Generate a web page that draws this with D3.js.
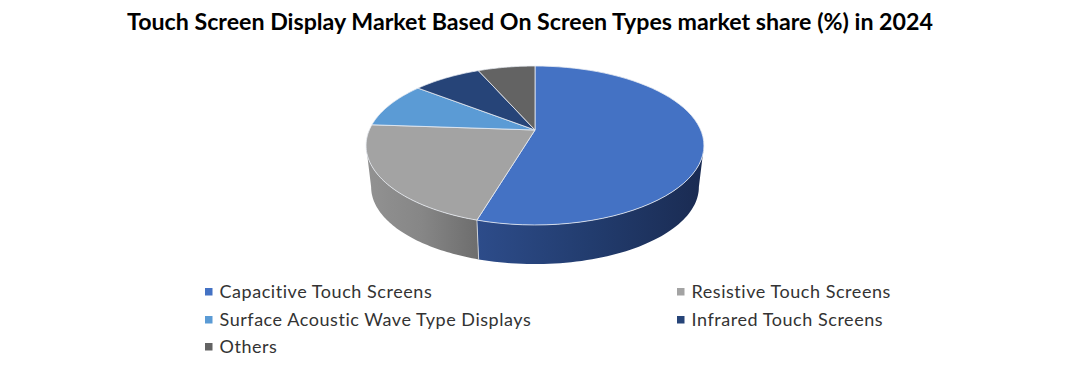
<!DOCTYPE html>
<html><head><meta charset="utf-8">
<script src="https://cdn.jsdelivr.net/npm/d3@7"></script>
<style>html,body{margin:0;padding:0;background:#fff}svg{display:block}text{font-family:Lato,sans-serif}</style>
</head><body><svg id="c" width="1070" height="372"></svg>
<script>
const titleText = "Touch Screen Display Market Based On Screen Types market share (%) in 2024";
const categories = ["Capacitive Touch Screens","Resistive Touch Screens","Surface Acoustic Wave Type Displays","Infrared Touch Screens","Others"];
const shares = [54.6,21.5,9.4,7.9,6.6];
const colors = ["#4472C4","#A3A3A3","#5B9BD5","#264478","#636363"];
const wallStops = [["#2d4c8a","#223c6e","#1a2b52"],["#929292","#868686","#6d6d6d"],["#3b6a96","#3b6a96","#3b6a96"],["#1a2f54","#1a2f54","#1a2f54"],["#454545","#454545","#454545"]];

const svg = d3.select("#c");
const defs = svg.append("defs");
const cx=535, apexY=130, K=165.7, A=51.1, C=-0.195, depthScale=0.97, ellipseCy=145.5, bottomCy=187;

// perspective projection of the tilted pie's disc
const topRim = t => { const u=Math.sin(t), v=-Math.cos(t), d=C*v+1;
  return [cx+K*u/d, (A*v+apexY)/d]; };
const botRim = t => { const p=topRim(t);
  return [cx+(p[0]-cx)*depthScale, bottomCy+(p[1]-ellipseCy)*depthScale]; };

const arcs = d3.pie().sort(null)(shares);
const line = d3.line();
const sample = (a,b) => d3.range(0,61).map(i=>a+(b-a)*i/60);

// only the front of the rim shows a wall: between the ellipse's left and right extremes
const tFront0 = Math.acos(-0.195), tFront1 = 2*Math.PI - tFront0;
arcs.forEach((d,i)=>{
  const a=Math.max(d.startAngle,tFront0), b=Math.min(d.endAngle,tFront1);
  if(b<=a) return;
  const ts=sample(a,b);
  const pts=ts.map(topRim).concat(ts.slice().reverse().map(botRim));
  const xs=pts.map(p=>p[0]);
  const g=defs.append("linearGradient").attr("id","w"+i).attr("gradientUnits","userSpaceOnUse")
    .attr("x1",d3.min(xs)).attr("x2",d3.max(xs)).attr("y1",0).attr("y2",0);
  wallStops[i].forEach((c,j)=>g.append("stop").attr("offset",j/2).attr("stop-color",c));
  svg.append("path").attr("d",line(pts)+"Z").attr("fill",`url(#w${i})`);
});
// boundary between the two visible walls
const seam=arcs[0].endAngle;
svg.append("path").attr("d",line([topRim(seam),botRim(seam)])).attr("stroke","#dfe3ea").attr("stroke-width",0.8).attr("fill","none");

// top faces
arcs.forEach((d,i)=>{
  const pts=[[cx,apexY]].concat(sample(d.startAngle,d.endAngle).map(topRim));
  svg.append("path").attr("d",line(pts)+"Z").attr("fill",colors[i])
    .attr("stroke","#e8ecf2").attr("stroke-width",0.8).attr("stroke-linejoin","round");
});

svg.append("text").attr("x",530).attr("y",30).attr("text-anchor","middle")
  .attr("font-size",23.2).attr("font-weight",700).attr("fill","#000").text(titleText);

const legendX=[205,677], legendY=[291,319,346];
categories.forEach((c,i)=>{
  const col=i%2, row=Math.floor(i/2);
  svg.append("rect").attr("x",legendX[col]).attr("y",legendY[row]-3).attr("width",7.5).attr("height",7.5).attr("fill",colors[i]);
  svg.append("text").attr("x",legendX[col]+14.5).attr("y",legendY[row]+6.5).attr("font-size",18)
    .attr("letter-spacing",0.55).attr("fill","#333").text(c);
});
</script></body></html>
